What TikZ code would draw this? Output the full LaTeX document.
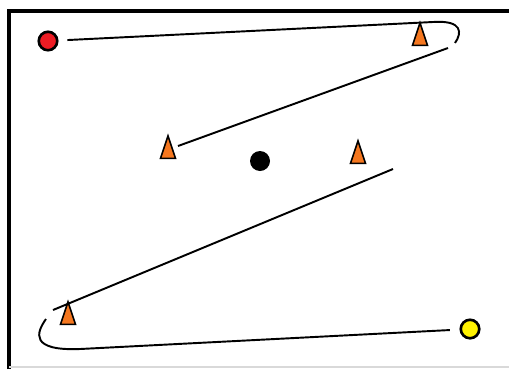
\documentclass[tikz,border=0pt]{standalone}
\usepackage{tikz}
\usetikzlibrary{shapes.geometric}
\definecolor{redplayer}{HTML}{ED1C24}
\definecolor{yellowplayer}{HTML}{FFF200}
\definecolor{coneorange}{HTML}{F5771F}
\tikzset{
  player/.style={circle,draw=black,line width=1.5pt,minimum size=0.37cm,inner sep=0pt},
  ball/.style={circle,fill=black,minimum size=0.4cm,inner sep=0pt},
  cone/.style={isosceles triangle,isosceles triangle stretches,shape border rotate=90,
    draw=black,fill=coneorange,line width=0.9pt,minimum width=0.3cm,minimum height=0.45cm,
    inner sep=0pt},
  run/.style={draw=black,line width=1.1pt},
  frame/.style={draw=black,line width=1.8pt},
}
\begin{document}
\begin{tikzpicture}[x=0.02cm,y=-0.02cm]
  \useasboundingbox (0,0) rectangle (509,369);
  % pitch border
  \draw[frame] (9,369) -- (9,11) -- (509,11);
  \draw[black!15,line width=0.6pt] (9,367) -- (509,367);
  % players, ball and cones
  \node[player,fill=redplayer] (red) at (48,41) {};
  \node[player,fill=yellowplayer] (yellow) at (470,329) {};
  \node[ball] (ball) at (260,161) {};
  \node[cone] (c1) at (420,40) {};
  \node[cone] (c2) at (168,153) {};
  \node[cone] (c3) at (358,158) {};
  \node[cone] (c4) at (68,319) {};
  % running lines
  \coordinate (t1) at (433,22);
  \coordinate (t2) at (455,43);
  \coordinate (d1) at (448,48);
  \coordinate (d2) at (178,146);
  \coordinate (e1) at (393,169);
  \coordinate (e2) at (53,310);
  \coordinate (b1) at (46,319);
  \coordinate (b2) at (80,349);
  \draw[run,shorten <=5pt] (red) -- (t1) .. controls (463,20) and (462,33) .. (t2);
  \draw[run] (d1) -- (d2);
  \draw[run] (e1) -- (e2);
  \draw[run,shorten >=5.5pt] (b1) .. controls (36,333) and (30,351) .. (b2) -- (yellow);
\end{tikzpicture}
\end{document}
